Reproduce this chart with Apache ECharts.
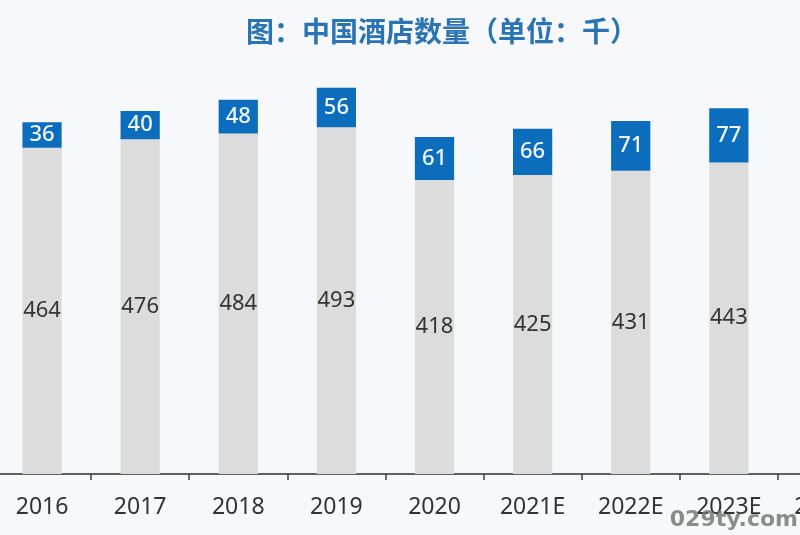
<!DOCTYPE html>
<html>

<head>
    <meta charset="utf-8">
    <title>中国酒店数量</title>
    <script src="https://cdn.jsdelivr.net/npm/echarts@6/dist/echarts.min.js"></script>
</head>

<body style="margin: 0; background: #f7f8fc;">
    <main id="main" style="height: 535px; width: 800px;"></main>

    <script>
        // years shown on the x axis (2024E is only partly in view)
        var years = ['2016', '2017', '2018', '2019', '2020', '2021E', '2022E', '2023E', '2024E'];
        // grey part of the stack, thousands
        var baseCounts = [464, 476, 484, 493, 418, 425, 431, 443, 452];
        // blue part on top, thousands
        var topCounts = [36, 40, 48, 56, 61, 66, 71, 77, 83];

        var chartDom = document.getElementById('main');
        var myChart = echarts.init(chartDom);
        var option;

        var BLUE = '#0c6dbd';
        var GREY = '#dcdcdc';
        var NUM_FONT = '"Noto Sans", "Open Sans", sans-serif';

        option = {
            animation: false,
            backgroundColor: '#f7f8fc',
            title: {
                text: '图：中国酒店数量（单位：千）',
                left: 437,
                top: 12,
                textAlign: 'center',
                textStyle: {
                    color: '#2a74b4',
                    fontSize: 28,
                    fontWeight: 'bold',
                    fontFamily: '"Noto Sans CJK SC", sans-serif'
                }
            },
            grid: {
                left: -7,
                width: 883,
                top: 52,
                bottom: 61,
                containLabel: false,
                outerBoundsMode: 'none'
            },
            xAxis: {
                type: 'category',
                data: years,
                axisLine: {
                    lineStyle: { color: '#606060', width: 2 }
                },
                axisTick: {
                    show: true,
                    length: 6,
                    lineStyle: { color: '#404040', width: 1.5 }
                },
                axisLabel: {
                    color: '#333',
                    fontSize: 23,
                    fontFamily: NUM_FONT,
                    margin: 22,
                    interval: 0
                }
            },
            yAxis: {
                type: 'value',
                min: 0,
                max: 600,
                show: false,
                splitLine: { show: false }
            },
            series: [
                {
                    name: 'base',
                    type: 'bar',
                    stack: 'total',
                    barWidth: '40%',
                    data: baseCounts,
                    itemStyle: { color: GREY },
                    label: {
                        show: true,
                        position: 'inside',
                        color: '#333',
                        fontSize: 22,
                        fontFamily: NUM_FONT
                    }
                },
                {
                    name: 'top',
                    type: 'bar',
                    stack: 'total',
                    barWidth: '40%',
                    data: topCounts,
                    itemStyle: { color: BLUE },
                    label: {
                        show: true,
                        position: 'inside',
                        color: '#eef6ff',
                        fontSize: 22,
                        fontWeight: 500,
                        fontFamily: NUM_FONT
                    }
                }
            ],
            graphic: [
                {
                    type: 'text',
                    right: 2,
                    bottom: 4,
                    z: 100,
                    style: {
                        text: '029ty.com',
                        fill: 'rgba(120,120,120,0.85)',
                        font: 'bold 22px "DejaVu Sans", sans-serif'
                    }
                }
            ]
        };

        option && myChart.setOption(option);
    </script>
</body>

</html>
